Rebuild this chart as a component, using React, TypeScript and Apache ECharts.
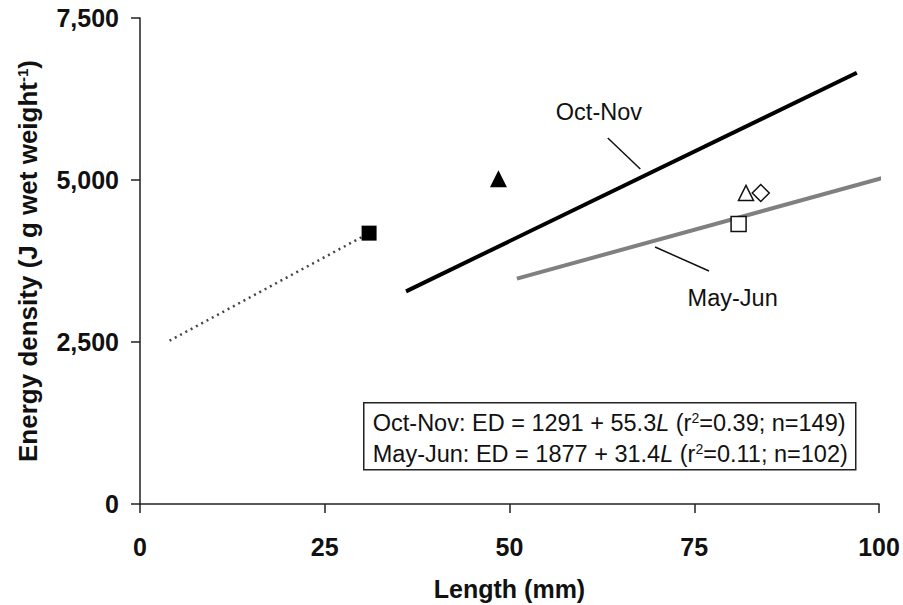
import React, { useEffect, useRef } from "react";
import * as echarts from "echarts";

// Regression lines (endpoints)
const octNovLine: [number, number][] = [[36, 3282], [97, 6655]];
const mayJunLine: [number, number][] = [[51, 3478], [101.5, 5064]];
// Dotted extrapolation to the filled square
const dottedLine: [number, number][] = [[4, 2520], [31, 4180]];
// Individual points
const filledSquare: [number, number][] = [[31, 4180]];
const filledTriangle: [number, number][] = [[48.5, 5020]];
const openTriangle: [number, number][] = [[82, 4800]];
const openDiamond: [number, number][] = [[84, 4800]];
const openSquare: [number, number][] = [[81, 4320]];

const xTicks = [0, 25, 50, 75, 100];
const yTicks = [0, 2500, 5000, 7500];

// Annotation labels and leader lines (data coordinates)
const octNovLabel: [number, number] = [62.1, 6049];
const octNovLeader: [number, number][] = [[63.3, 5648], [67.7, 5170]];
const mayJunLabel: [number, number] = [80.2, 3179];
const mayJunLeader: [number, number][] = [[69.7, 3966], [77.0, 3596]];

const FONT = "'Liberation Sans', Arial, Helvetica, sans-serif";

export default function App() {
  const ref = useRef<HTMLDivElement>(null);
  useEffect(() => {
    if (!ref.current) return;
    const chart = echarts.init(ref.current, null, { renderer: "svg" });
    const markerSeries = (
      name: string,
      data: [number, number][],
      symbol: string,
      size: number,
      filled: boolean
    ) => ({
      name,
      type: "scatter",
      data,
      symbol,
      symbolSize: size,
      z: 10,
      itemStyle: filled
        ? { color: "#000", opacity: 1 }
        : { color: "#fff", borderColor: "#111", borderWidth: 1.5, opacity: 1 },
    });
    const richLegend = {
      i: { fontFamily: FONT, fontSize: 23.5, fontStyle: "italic", fill: "#111" },
      sup: { fontFamily: FONT, fontSize: 14, fill: "#111", verticalAlign: "top" },
    };
    chart.setOption({
      animation: false,
      textStyle: { fontFamily: FONT },
      grid: {
        left: 140,
        right: 24,
        top: 18,
        bottom: 101,
        containLabel: false,
        outerBoundsMode: "none",
      },
      xAxis: {
        type: "value",
        min: xTicks[0],
        max: xTicks[xTicks.length - 1],
        interval: 25,
        name: "Length (mm)",
        nameLocation: "middle",
        nameGap: 72,
        nameTextStyle: { fontFamily: FONT, fontSize: 25, fontWeight: "bold", color: "#111" },
        splitLine: { show: false },
        axisLine: { lineStyle: { color: "#222", width: 1.5 } },
        axisTick: { length: 9, lineStyle: { color: "#222", width: 1.5 } },
        axisLabel: {
          margin: 30,
          fontFamily: FONT,
          fontSize: 25,
          fontWeight: "bold",
          color: "#111",
        },
      },
      yAxis: {
        type: "value",
        min: yTicks[0],
        max: yTicks[yTicks.length - 1],
        interval: 2500,
        name: "Energy density (J g wet weight{sup|-1})",
        nameLocation: "middle",
        nameGap: 99,
        nameTextStyle: {
          fontFamily: FONT,
          fontSize: 26,
          fontWeight: "bold",
          color: "#111",
          rich: {
            sup: { fontFamily: FONT, fontSize: 15, fontWeight: "bold", color: "#111", verticalAlign: "top" },
          },
        },
        splitLine: { show: false },
        axisLine: { show: true, lineStyle: { color: "#222", width: 1.5 } },
        axisTick: { show: true, length: 9, lineStyle: { color: "#222", width: 1.5 } },
        axisLabel: {
          margin: 21,
          fontFamily: FONT,
          fontSize: 25,
          fontWeight: "bold",
          color: "#111",
          formatter: (v: number) => v.toLocaleString("en-US"),
        },
      },
      series: [
        {
          name: "Oct-Nov",
          type: "line",
          data: octNovLine,
          symbol: "none",
          clip: false,
          lineStyle: { color: "#000", width: 4 },
          markLine: {
            silent: true,
            symbol: "none",
            label: { show: false },
            lineStyle: { color: "#111", width: 1.5, type: "solid" },
            data: [[{ coord: octNovLeader[0] }, { coord: octNovLeader[1] }]],
          },
          markPoint: {
            silent: true,
            symbol: "circle",
            symbolSize: 0,
            label: {
              show: true,
              position: "inside",
              formatter: "Oct-Nov",
              fontFamily: FONT,
              fontSize: 23.5,
              color: "#111",
            },
            data: [{ coord: octNovLabel }],
          },
        },
        {
          name: "May-Jun",
          type: "line",
          data: mayJunLine,
          symbol: "none",
          clip: false,
          lineStyle: { color: "#808080", width: 4 },
          markLine: {
            silent: true,
            symbol: "none",
            label: { show: false },
            lineStyle: { color: "#111", width: 1.5, type: "solid" },
            data: [[{ coord: mayJunLeader[0] }, { coord: mayJunLeader[1] }]],
          },
          markPoint: {
            silent: true,
            symbol: "circle",
            symbolSize: 0,
            label: {
              show: true,
              position: "inside",
              formatter: "May-Jun",
              fontFamily: FONT,
              fontSize: 23.5,
              color: "#111",
            },
            data: [{ coord: mayJunLabel }],
          },
        },
        {
          name: "dotted",
          type: "line",
          data: dottedLine,
          symbol: "none",
          lineStyle: { color: "#444", width: 2.5, type: [2, 4] },
        },
        markerSeries("filledSquare", filledSquare, "rect", 15, true),
        markerSeries("filledTriangle", filledTriangle, "triangle", 17, true),
        markerSeries("openTriangle", openTriangle, "triangle", 15, false),
        markerSeries("openDiamond", openDiamond, "diamond", 17, false),
        markerSeries("openSquare", openSquare, "rect", 15, false),
      ],
      graphic: [
        {
          type: "group",
          left: 363,
          top: 402,
          children: [
            {
              type: "rect",
              shape: { x: 0, y: 0, width: 492, height: 67 },
              style: { fill: "#fff", stroke: "#222", lineWidth: 1.5 },
            },
            {
              type: "text",
              x: 9,
              y: 20,
              style: {
                text: "Oct-Nov: ED = 1291 + 55.3{i|L} (r{sup|2}=0.39; n=149)",
                fontFamily: FONT,
                fontSize: 23.5,
                fill: "#111",
                verticalAlign: "middle",
                rich: richLegend,
              },
            },
            {
              type: "text",
              x: 9,
              y: 51,
              style: {
                text: "May-Jun: ED = 1877 + 31.4{i|L} (r{sup|2}=0.11; n=102)",
                fontFamily: FONT,
                fontSize: 23.5,
                fill: "#111",
                verticalAlign: "middle",
                rich: richLegend,
              },
            },
          ],
        },
      ],
    });
    return () => chart.dispose();
  }, []);
  return (
    <div
      ref={ref}
      style={{ position: "fixed", left: 0, top: 0, width: 903, height: 605, background: "#fff" }}
    />
  );
}
